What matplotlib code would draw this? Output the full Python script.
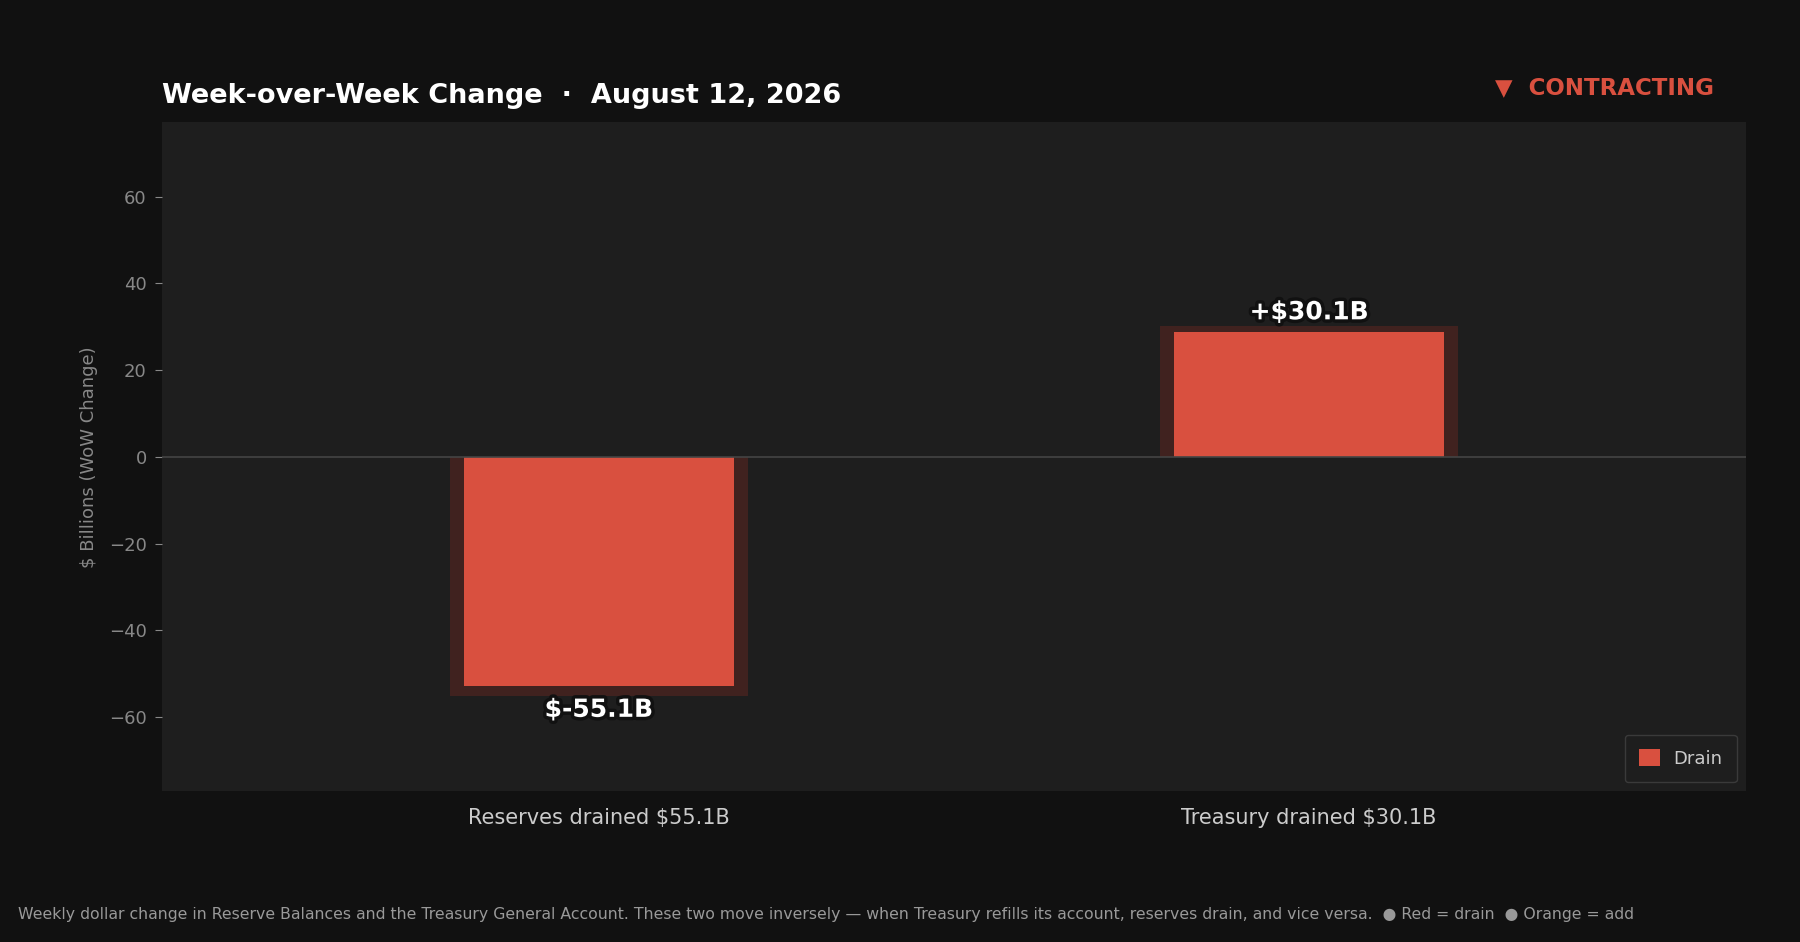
import numpy as np
import matplotlib
matplotlib.use("Agg")
import matplotlib.pyplot as plt
import matplotlib.patheffects as pe

# data
categories = ["Reserves drained $55.1B", "Treasury drained $30.1B"]
wow_change = [-55.1, 30.1]
value_labels = ["$-55.1B", "+$30.1B"]
title = "Week-over-Week Change  \u00b7  August 12, 2026"
status = "\u25bc  CONTRACTING"
footer = ("Weekly dollar change in Reserve Balances and the Treasury General Account. "
          "These two move inversely \u2014 when Treasury refills its account, reserves drain, "
          "and vice versa.  \u25cf Red = drain  \u25cf Orange = add")

BG = "#111111"
PANEL = "#1e1e1e"
RED = "#d9503f"
GLOW = "#40221f"

fig = plt.figure(figsize=(18, 9.42), dpi=100, facecolor=BG)
ax = fig.add_axes([0.09, 0.160, 0.880, 0.710])
ax.set_facecolor(PANEL)

x = np.arange(len(categories))
vals = np.array(wow_change)

# soft glow behind, then the main bar slightly inset
ax.bar(x, vals, width=0.42, color=GLOW, zorder=2)
ax.bar(x, vals * 0.96, width=0.38, color=RED, zorder=3, label="Drain")

ax.axhline(0, color="#444444", lw=1.2, zorder=4)

stroke = [pe.withStroke(linewidth=5, foreground="#111111")]
for xi, v, lab in zip(x, vals, value_labels):
    off = 1.5 if v > 0 else -1.5
    ax.annotate(lab, (xi, v), xytext=(0, off), textcoords="offset points",
                ha="center", va="bottom" if v > 0 else "top",
                fontsize=18, fontweight="bold", color="white",
                path_effects=stroke, zorder=5)

lim = np.abs(vals).max() * 1.4
ax.set_ylim(-lim, lim)
ax.set_xlim(-0.615, 1.615)
ax.set_xticks(x)
ax.set_xticklabels(categories, fontsize=15, color="#cccccc")
ax.tick_params(axis="x", length=0, pad=12)
ax.tick_params(axis="y", colors="#888888", labelsize=13, length=5, pad=6)
ax.set_ylabel("$ Billions (WoW Change)", color="#888888", fontsize=13, labelpad=8)
for s in ax.spines.values():
    s.set_visible(False)

leg = ax.legend(loc="lower right", fontsize=13, facecolor=PANEL, edgecolor="#3a3a3a",
                labelcolor="#cccccc", framealpha=1, borderpad=0.8, handlelength=1.15,
                handleheight=1.1, handletextpad=0.75)

fig.text(0.09, 1 - 103 / 942, title, fontsize=19.5, fontweight="bold", color="white",
         ha="left", va="baseline")
fig.text(1714 / 1800, 1 - 94 / 942, status, fontsize=16.5, fontweight="bold", color=RED,
         ha="right", va="baseline")
fig.text(18 / 1800, 1 - 914 / 942, footer, fontsize=11.3, color="#999999",
         ha="left", va="center")

fig.savefig("out.png", dpi=100, facecolor=BG)
